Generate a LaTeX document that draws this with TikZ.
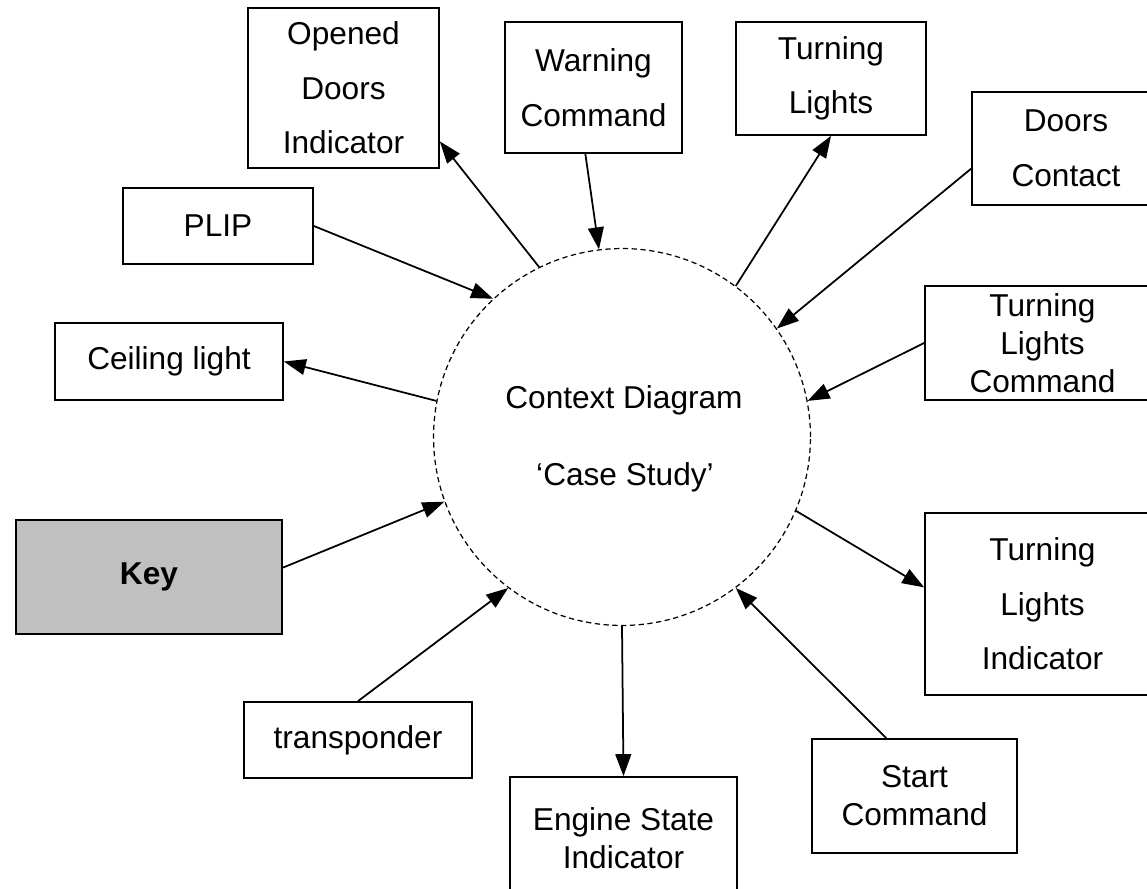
\documentclass[tikz,border=0pt]{standalone}
\usepackage{fontspec}
\setmainfont{Liberation Sans}
\usetikzlibrary{arrows.meta}
\definecolor{keygray}{RGB}{192,192,192}

\begin{document}
\begin{tikzpicture}[x=0.02cm, y=-0.02cm,
    font=\fontsize{18}{31}\selectfont,
    box/.style={draw, line width=1pt, align=center, inner sep=0pt},
    tight/.style={font=\fontsize{18}{21.6}\selectfont},
    flow/.style={-{Triangle[length=12.5pt, width=9pt]}, line width=1pt}]
    \clip (0, 0) rectangle (1147, 889);

    \node[draw, circle, dash pattern=on 3pt off 2pt, line width=0.7pt, minimum size=7.54cm] (ctx) at (622, 437) {};
    \node (title) at (624, 400) {Context Diagram};
    \node (case) at (625, 477) {‘Case Study’};

    \node[box, minimum width=3.82cm, minimum height=3.2cm] (opened) at (343.5, 88) {Opened\\Doors\\Indicator};
    \node[box, minimum width=3.54cm, minimum height=2.62cm] (warn) at (593.5, 87.5) {Warning\\Command};
    \node[box, minimum width=3.8cm, minimum height=2.26cm] (lights) at (831, 78.5) {Turning\\Lights};
    \node[box, minimum width=3.76cm, minimum height=2.26cm] (doors) at (1066, 148.5) {Doors\\Contact};
    \node[box, minimum width=3.8cm, minimum height=1.52cm] (plip) at (218, 226) {PLIP};
    \node[box, minimum width=4.56cm, minimum height=1.54cm] (ceiling) at (169, 361.5) {Ceiling light};
    \node[box, tight, minimum width=4.7cm, minimum height=2.28cm] (lightscmd) at (1042.5, 343) {Turning\\Lights\\Command};
    \node[box, fill=keygray, minimum width=5.32cm, minimum height=2.28cm] (key) at (149, 577) {\textbf{Key}};
    \node[box, minimum width=4.7cm, minimum height=3.64cm] (lightsind) at (1042.5, 604) {Turning\\Lights\\Indicator};
    \node[box, minimum width=4.56cm, minimum height=1.52cm] (transp) at (358, 740) {transponder};
    \node[box, tight, minimum width=4.54cm, minimum height=2.46cm] (engine) at (623.5, 838.5) {Engine State\\Indicator};
    \node[box, tight, minimum width=4.1cm, minimum height=2.28cm] (start) at (914.5, 796) {Start\\Command};

    % flows out of the system
    \draw[flow] (ctx.116) -- (opened.-29);
    \draw[flow] (ctx.169) -- (ceiling.east);
    \draw[flow] (ctx.53) -- (lights.south);
    \draw[flow] (ctx.-23) -- (lightsind.172);
    \draw[flow] (ctx.-90) -- (engine.north);

    % flows into the system
    \draw[flow] (plip.east) -- (ctx.133);
    \draw[flow] (warn.-97) -- (ctx.97);
    \draw[flow] (doors.-168) -- (ctx.35);
    \draw[flow] (lightscmd.west) -- (ctx.11);
    \draw[flow] (key.4) -- (ctx.200);
    \draw[flow] (transp.north) -- (ctx.233);
    \draw[flow] (start.116) -- (ctx.-53);
\end{tikzpicture}
\end{document}
